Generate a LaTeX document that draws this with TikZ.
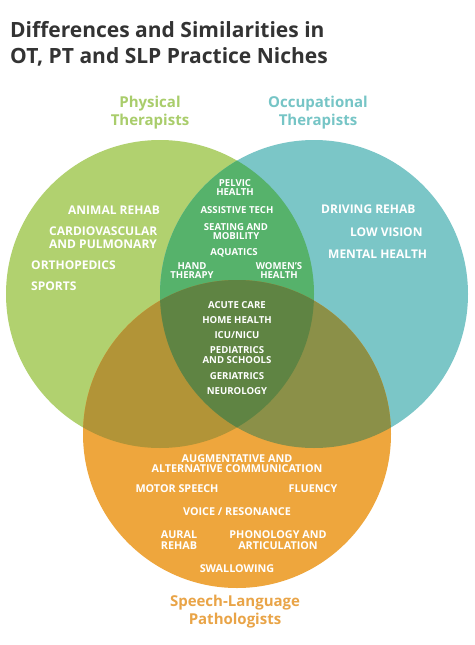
\documentclass[tikz,border=0pt]{standalone}
\usepackage{fontspec}
\setmainfont{Open Sans}[BoldFont={Open Sans Bold}]
\definecolor{ptc}{HTML}{B1D16F}
\definecolor{otc}{HTML}{7BC6C7}
\definecolor{slpc}{HTML}{EEA63D}
\definecolor{ptotc}{HTML}{56B26B}
\definecolor{ptslpc}{HTML}{B29437}
\definecolor{otslpc}{HTML}{8B9048}
\definecolor{allc}{HTML}{5F8443}
\definecolor{titlec}{HTML}{333333}
\definecolor{ptlab}{HTML}{A9CD6B}
\definecolor{otlab}{HTML}{76C5C6}
\definecolor{slplab}{HTML}{E9A447}
\begin{document}
\begin{tikzpicture}[x=1pt,y=-1pt,
  titletext/.style={anchor=base west,inner sep=0pt,text=titlec,font=\fontsize{21}{26}\selectfont\bfseries},
  grouplab/.style={inner sep=0pt,align=center,font=\fontsize{15}{18}\selectfont\bfseries},
  bigitem/.style={inner sep=0pt,text=white,align=left,font=\fontsize{12}{13}\selectfont\bfseries},
  smallitem/.style={inner sep=0pt,text=white,align=center,font=\fontsize{9.6}{9.5}\selectfont\bfseries},
  slpitem/.style={inner sep=0pt,text=white,align=center,font=\fontsize{10.8}{10.5}\selectfont\bfseries}]
\useasboundingbox (0,0) rectangle (474,645);
\fill[white] (0,0) rectangle (474,645);
\coordinate (cpt) at (160,294);
\coordinate (cot) at (314,294);
\coordinate (cslp) at (237,434);
\def\R{154}
% base circles
\fill[ptc] (cpt) circle[radius=\R];
\fill[otc] (cot) circle[radius=\R];
\fill[slpc] (cslp) circle[radius=\R];
% pairwise overlaps
\begin{scope}\clip (cpt) circle[radius=\R]; \fill[ptotc] (cot) circle[radius=\R];\end{scope}
\begin{scope}\clip (cpt) circle[radius=\R]; \fill[ptslpc] (cslp) circle[radius=\R];\end{scope}
\begin{scope}\clip (cot) circle[radius=\R]; \fill[otslpc] (cslp) circle[radius=\R];\end{scope}
% triple overlap
\begin{scope}\clip (cpt) circle[radius=\R]; \clip (cot) circle[radius=\R]; \fill[allc] (cslp) circle[radius=\R];\end{scope}
% title
\node[titletext] (t1) at (10,37) {Differences and Similarities in};
\node[titletext] (t2) at (10,63) {OT, PT and SLP Practice Niches};
% group labels
\node[grouplab,text=ptlab] (ptl) at (150,113) {Physical\\Therapists};
\node[grouplab,text=otlab] (otl) at (318,113) {Occupational\\Therapists};
\node[grouplab,text=slplab] (slpl) at (235,612) {Speech-Language\\Pathologists};
% PT only
\node[bigitem,anchor=west] (p1) at (68,210) {ANIMAL REHAB};
\node[bigitem,anchor=west] (p2) at (49,237.5) {CARDIOVASCULAR\\AND PULMONARY};
\node[bigitem,anchor=west] (p3) at (31,265) {ORTHOPEDICS};
\node[bigitem,anchor=west] (p4) at (31,286) {SPORTS};
% OT only
\node[bigitem,anchor=west] (o1) at (321,209) {DRIVING REHAB};
\node[bigitem,anchor=west] (o2) at (350,232) {LOW VISION};
\node[bigitem,anchor=west] (o3) at (328,254) {MENTAL HEALTH};
% PT & OT
\node[smallitem] (po1) at (235,187.5) {PELVIC\\HEALTH};
\node[smallitem] (po2) at (237,210) {ASSISTIVE TECH};
\node[smallitem] (po3) at (236,231.5) {SEATING AND\\MOBILITY};
\node[smallitem] (po4) at (234,253) {AQUATICS};
\node[smallitem] (po5) at (192,270.5) {HAND\\THERAPY};
\node[smallitem] (po6) at (279,270.5) {WOMEN'S\\HEALTH};
% all three
\node[smallitem] (a1) at (237,305) {ACUTE CARE};
\node[smallitem] (a2) at (237,320) {HOME HEALTH};
\node[smallitem] (a3) at (237,335) {ICU/NICU};
\node[smallitem] (a4) at (237,355) {PEDIATRICS\\AND SCHOOLS};
\node[smallitem] (a5) at (237,376) {GERIATRICS};
\node[smallitem] (a6) at (237,391) {NEUROLOGY};
% SLP
\node[slpitem] (s1) at (237,463.5) {AUGMENTATIVE AND\\ALTERNATIVE COMMUNICATION};
\node[slpitem] (s2) at (177,489) {MOTOR SPEECH};
\node[slpitem] (s3) at (313,489) {FLUENCY};
\node[slpitem] (s4) at (237,512) {VOICE / RESONANCE};
\node[slpitem] (s5) at (179,540) {AURAL\\REHAB};
\node[slpitem] (s6) at (278,540) {PHONOLOGY AND\\ARTICULATION};
\node[slpitem] (s7) at (237,569) {SWALLOWING};
\end{tikzpicture}
\end{document}
